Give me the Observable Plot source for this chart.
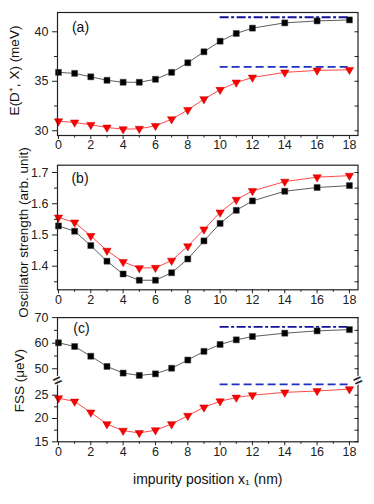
<!DOCTYPE html>
<html><head><meta charset="utf-8">
<script src="https://cdn.jsdelivr.net/npm/d3@7"></script>
<script src="https://cdn.jsdelivr.net/npm/@observablehq/plot@0.6"></script>
<style>
body{margin:0;background:#fff;}
#chart{position:relative;width:374px;height:504px;background:#fff;font-family:"Liberation Sans",Arial,sans-serif;}
#chart svg{position:absolute;left:0;top:0;}
</style>
</head><body><div id="chart"></div>
<script>
// ---- data ----
const positions = [0,1,2,3,4,5,6,7,8,9,10,11,12,14,16,18];
const energyBlack = [35.9,35.8,35.45,35.1,34.9,34.9,35.2,35.9,36.87,37.98,39.05,39.83,40.37,40.9,41.1,41.2];
const energyRed   = [30.97,30.84,30.6,30.33,30.16,30.2,30.5,31.17,32.1,33.2,34.14,34.88,35.38,35.9,36.1,36.16];
const oscBlack = [1.529,1.512,1.466,1.416,1.375,1.355,1.355,1.379,1.423,1.481,1.537,1.579,1.609,1.64,1.652,1.658];
const oscRed   = [1.556,1.54,1.497,1.45,1.414,1.394,1.395,1.418,1.464,1.518,1.572,1.613,1.641,1.671,1.685,1.69];
const fssBlack = [60.15,58.7,54.9,50.9,48.3,47.4,48.0,50.2,53.4,56.8,59.5,61.3,62.6,63.9,64.8,65.3];
const fssRed   = [24.36,23.65,21.3,18.8,17.4,16.9,17.5,18.8,20.6,22.4,23.7,24.5,25.0,25.6,25.9,26.3];
const energyLimits = [41.47, 36.46];   // [black limit, red limit]
const fssLimits = [66.4, 27.3];
const limitRange = [10, 18];
const xMajorTicks = [0,2,4,6,8,10,12,14,16,18];
const xMinorTicks = [1,3,5,7,9,11,13,15,17];
const energyTicks = [30,35,40], energyMinor = [32.5,37.5];
const oscTicks = [1.4,1.5,1.6,1.7], oscMinor = [1.35,1.45,1.55,1.65];
const fssTicks = [15,20,25,50,60,70], fssMinor = [17.5,22.5,55,65];
const fssBreak = [28.15, 45.4];
const panelLabels = ["(a)", "(b)", "(c)"];
const yTitles = ["E(D\u207A, X) (meV)", "Oscillator strength (arb. unit)", "FSS (\u03BCeV)"];
const xTitle = "impurity position x\u2081 (nm)";

// ---- layout ----
const W = 374, H = 504;
const xDomain = [-0.06, 18.53];
const FONT = '"Liberation Sans", Arial, sans-serif';
const AX = "#222";

function rowsOf(black, red){ return positions.map((x,i)=>({x, black: black[i], red: red[i]})); }

function panel(o){
  const rows = rowsOf(o.black, o.red);
  const marks = [];
  if (o.limits){
    marks.push(Plot.ruleY([o.limits[0]], {x1: limitRange[0], x2: limitRange[1], stroke: "#12129a", strokeWidth: 1.8, strokeDasharray: "9,2.5,3,2.5"}));
    marks.push(Plot.ruleY([o.limits[1]], {x1: limitRange[0], x2: limitRange[1], stroke: "#1f2fc0", strokeWidth: 1.8, strokeDasharray: "8,4"}));
  }
  marks.push(
    Plot.line(rows, {x: "x", y: "black", stroke: "#333", strokeWidth: 0.8}),
    Plot.line(rows, {x: "x", y: "red", stroke: "#ff1a1a", strokeWidth: 0.8}),
    Plot.dot(rows, {x: "x", y: "black", symbol: "square", r: 3.4, fill: "#000", stroke: "#444", strokeWidth: 0.5}),
    Plot.dot(rows, {x: "x", y: "red", symbol: "triangle", rotate: 180, r: 3.1, fill: "#ff0000", stroke: "#c00000", strokeWidth: 0.5}),
    Plot.frame({stroke: AX, strokeWidth: 1.2}),
    Plot.axisX({ticks: xMajorTicks, tickSize: 4, tickPadding: 1, fontSize: 12.5, label: null, stroke: AX, fill: AX, tickFormat: d => String(d)}),
    Plot.axisX({ticks: xMinorTicks, tickSize: 2.5, fill: "none", stroke: AX, label: null}),
    Plot.axisY({ticks: o.majorY, tickSize: 5, tickPadding: 4, fontSize: 12.5, label: null, stroke: AX, fill: AX, tickFormat: o.fmt}),
    Plot.axisY({ticks: o.minorY, tickSize: 3, fill: "none", stroke: AX, label: null}),
    Plot.axisY({ticks: o.majorY, anchor: "right", tickSize: -4, fill: "none", stroke: AX, label: null}),
    Plot.axisY({ticks: o.minorY, anchor: "right", tickSize: -4, fill: "none", stroke: AX, label: null}),
    Plot.text([o.label], {frameAnchor: "top-left", textAnchor: "middle", lineAnchor: "middle", dx: o.labelDx, dy: o.labelDy, fontSize: 14, fill: "#111"}),
    Plot.text([o.title], {frameAnchor: "left", textAnchor: "middle", lineAnchor: "middle", dx: o.titleDx, dy: o.titleDy, rotate: -90, fontSize: 13.5, fill: "#111"})
  );
  if (o.breaks){
    for (const xv of [xDomain[0], xDomain[1]]){
      marks.push(Plot.text([o.breaks[0]], {x: () => xv, y: d => d, text: () => "=", rotate: -25, fontSize: 15, fontWeight: "bold", fill: AX, stroke: "white", strokeWidth: 2}));
    }
  }
  if (o.xTitle){
    marks.push(Plot.text([o.xTitle], {frameAnchor: "bottom", textAnchor: "middle", lineAnchor: "middle", dy: 38, fontSize: 14, fill: "#111"}));
  }
  return Plot.plot({
    width: W, height: H,
    marginLeft: 57, marginRight: 16.5, marginTop: o.top, marginBottom: H - o.bottom,
    x: {domain: xDomain},
    y: o.y,
    style: {background: "transparent", overflow: "visible", fontFamily: FONT},
    marks
  });
}

const chart = document.getElementById("chart");
chart.append(panel({
  black: energyBlack, red: energyRed, limits: energyLimits,
  top: 12, bottom: 135, y: {domain: [29.52, 41.95]},
  majorY: energyTicks, minorY: energyMinor, fmt: d => String(d),
  label: panelLabels[0], labelDx: 23, labelDy: 15.5,
  title: yTitles[0], titleDx: -43, titleDy: -3.5
}));
chart.append(panel({
  black: oscBlack, red: oscRed,
  top: 164.7, bottom: 289.3, y: {domain: [1.3244, 1.7234]},
  majorY: oscTicks, minorY: oscMinor, fmt: d => d.toFixed(1),
  label: panelLabels[1], labelDx: 22.5, labelDy: 13,
  title: yTitles[1], titleDx: -34, titleDy: 5
}));
chart.append(panel({
  black: fssBlack, red: fssRed, limits: fssLimits, breaks: fssBreak,
  top: 317.1, bottom: 441.3,
  y: {type: "linear", domain: [15, fssBreak[0], fssBreak[1], 70], range: [441.3, 380, 380, 317.1]},
  majorY: fssTicks, minorY: fssMinor, fmt: d => String(d),
  label: panelLabels[2], labelDx: 24, labelDy: 11,
  title: yTitles[2], titleDx: -38, titleDy: 1,
  xTitle
}));
</script>
</body></html>
